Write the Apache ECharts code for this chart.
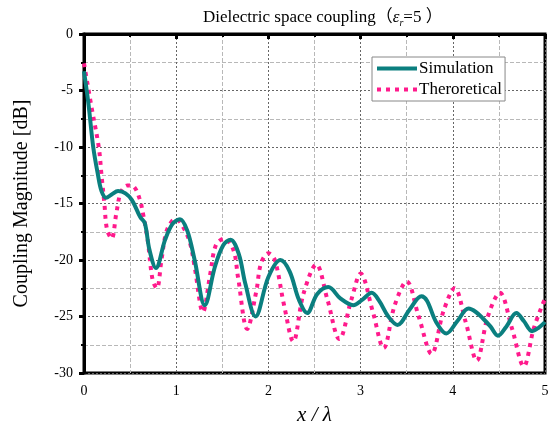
<!DOCTYPE html>
<html>
<head>
<meta charset="utf-8">
<script src="https://cdn.jsdelivr.net/npm/echarts@6/dist/echarts.min.js"></script>
<style>
  html, body { margin: 0; padding: 0; background: #fff; }
  #chart { width: 550px; height: 426px; }
</style>
</head>
<body>
<div id="chart"></div>
<script>
// values: x/λ and coupling in dB
var simX = [0, 0.05, 0.10, 0.15, 0.19, 0.24, 0.30, 0.37, 0.45, 0.52, 0.61, 0.66, 0.71, 0.78,
  0.88, 0.96, 1.04, 1.12, 1.20, 1.31, 1.42, 1.51, 1.59, 1.68, 1.75, 1.86, 2.00, 2.13, 2.23,
  2.33, 2.42, 2.53, 2.65, 2.78, 2.92, 3.02, 3.12, 3.20, 3.30, 3.40, 3.53, 3.66, 3.72, 3.82,
  3.93, 4.05, 4.17, 4.25, 4.33, 4.41, 4.49, 4.58, 4.69, 4.77, 4.86, 4.93, 5.00];
var simY = [-3.3, -6.3, -10.0, -12.4, -13.9, -14.5, -14.2, -13.9, -14.1, -14.7, -16.2, -16.75, -19.1, -20.7,
  -18.2, -16.8, -16.4, -17.4, -20.0, -24.0, -20.6, -18.7, -18.2, -19.5, -22.1, -25.0, -21.5, -20.0, -21.0,
  -23.5, -24.7, -23.0, -22.4, -23.4, -24.0, -23.5, -22.9, -23.6, -25.0, -25.75, -24.4, -23.2, -23.6, -25.5,
  -26.5, -25.4, -24.3, -24.6, -25.2, -25.9, -26.7, -25.9, -24.7, -25.4, -26.3, -26.0, -25.5];

var theoX = [0, 0.08, 0.16, 0.19, 0.22, 0.25, 0.30, 0.35, 0.40, 0.47, 0.53, 0.60, 0.64, 0.69,
  0.745, 0.79, 0.84, 0.89, 0.95, 1.00, 1.07, 1.15, 1.20, 1.29, 1.37, 1.43, 1.52, 1.62, 1.67,
  1.77, 1.87, 1.92, 2.00, 2.07, 2.17, 2.27, 2.38, 2.52, 2.64, 2.77, 2.90, 3.00, 3.13, 3.25,
  3.37, 3.50, 3.63, 3.77, 3.90, 4.02, 4.14, 4.26, 4.38, 4.51, 4.64, 4.77, 4.88, 5.00];
var theoY = [-2.6, -6.4, -10.0, -12.5, -14.9, -17.3, -18.1, -15.9, -14.0, -13.4, -13.45, -14.5, -15.9, -18.2,
  -21.8, -22.5, -20.0, -17.6, -16.6, -16.4, -17.0, -18.5, -20.6, -24.6, -21.2, -18.7, -18.1, -19.1, -21.5,
  -26.1, -22.7, -20.3, -19.4, -20.0, -24.0, -27.2, -23.0, -20.4, -23.5, -27.0, -23.5, -21.2, -24.5, -27.8,
  -24.0, -21.9, -25.0, -28.3, -24.5, -22.5, -25.5, -28.9, -25.0, -22.9, -26.0, -29.4, -26.0, -23.4];

var serif = '"Liberation Serif", "Times New Roman", serif';

function pairs(xs, ys) {
  var out = [];
  for (var i = 0; i < xs.length; i++) out.push([xs[i], ys[i]]);
  return out;
}

var chart = echarts.init(document.getElementById('chart'));

var option = {
  animation: false,
  backgroundColor: '#fff',
  title: {
    text: '{n|Dielectric space coupling（}{i|ε}{s|r}{n|=5 ）}',
    left: 198,
    top: 3,
    textStyle: {
      fontWeight: 'normal',
      rich: {
        n: { fontFamily: serif + ', "Noto Sans CJK SC"', fontSize: 17, fontWeight: 'normal', color: '#000', lineHeight: 20 },
        i: { fontFamily: serif, fontStyle: 'italic', fontWeight: 'normal', fontSize: 17, color: '#000', lineHeight: 20 },
        s: { fontFamily: serif, fontStyle: 'italic', fontWeight: 'normal', fontSize: 10, color: '#000', lineHeight: 8, verticalAlign: 'bottom' }
      }
    }
  },
  legend: {
    left: 372,
    top: 57,
    orient: 'vertical',
    itemWidth: 40,
    itemHeight: 14,
    itemGap: 4,
    padding: [3, 3],
    backgroundColor: '#fff',
    borderColor: '#888',
    borderWidth: 1,
    borderRadius: 0,
    itemStyle: { opacity: 0 },
    textStyle: { fontFamily: serif, fontSize: 17, color: '#000', padding: [0, 0, 0, -3] },
    data: [
      { name: 'Simulation', lineStyle: { width: 4 } },
      { name: 'Theroretical', lineStyle: { width: 4 } }
    ]
  },
  grid: {
    left: 84,
    right: 5,
    top: 34,
    bottom: 53,
    outerBoundsMode: 'none',
    show: true,
    borderColor: '#000',
    borderWidth: 3
  },
  xAxis: {
    type: 'value',
    min: 0,
    max: 5,
    interval: 1,
    name: 'x / λ',
    nameLocation: 'middle',
    nameGap: 32,
    nameTextStyle: { fontFamily: serif, fontStyle: 'italic', fontSize: 21, color: '#000' },
    axisLine: { lineStyle: { color: '#000', width: 3 } },
    axisTick: { length: 5, lineStyle: { width: 3, color: '#000' } },
    minorTick: { show: true, splitNumber: 2, length: 3, lineStyle: { width: 2, color: '#000' } },
    axisLabel: { fontFamily: serif, fontSize: 14, color: '#000', margin: 11 },
    splitLine: { lineStyle: { color: '#666', type: [2, 2], width: 1 } },
    minorSplitLine: { show: true, lineStyle: { color: '#b8b8b8', type: [4, 2], width: 1 } }
  },
  yAxis: {
    type: 'value',
    min: -30,
    max: 0,
    interval: 5,
    name: 'Coupling Magnitude [dB]',
    nameLocation: 'middle',
    nameGap: 52,
    nameTextStyle: { fontFamily: serif, fontSize: 20, color: '#000' },
    axisLine: { lineStyle: { color: '#000', width: 3 } },
    axisTick: { length: 5, lineStyle: { width: 3, color: '#000' } },
    minorTick: { show: true, splitNumber: 2, length: 3, lineStyle: { width: 2, color: '#000' } },
    axisLabel: { fontFamily: serif, fontSize: 14, color: '#000', margin: 11 },
    splitLine: { lineStyle: { color: '#666', type: [2, 2], width: 1 } },
    minorSplitLine: { show: true, lineStyle: { color: '#b8b8b8', type: [4, 2], width: 1 } }
  },
  series: [
    {
      name: 'Simulation',
      type: 'line',
      data: pairs(simX, simY),
      smooth: 0.35,
      showSymbol: false,
      symbol: 'none',
      itemStyle: { color: '#0b7f7f' },
      lineStyle: { color: '#0b7f7f', width: 4 },
      z: 3
    },
    {
      name: 'Theroretical',
      type: 'line',
      data: pairs(theoX, theoY),
      smooth: 0.35,
      showSymbol: false,
      symbol: 'none',
      itemStyle: { color: '#ff1a8c' },
      lineStyle: { color: '#ff1a8c', width: 4, type: [4, 5], cap: 'butt' },
      z: 2
    }
  ]
};

chart.setOption(option);
</script>
</body>
</html>
